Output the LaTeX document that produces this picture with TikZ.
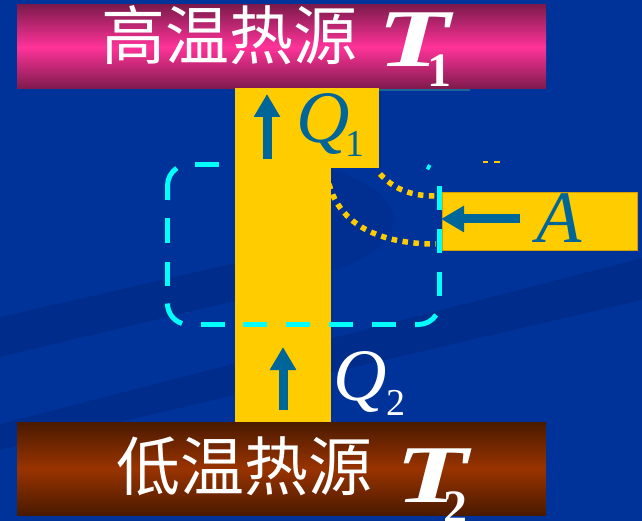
\documentclass[tikz,border=0pt]{standalone}
\usepackage{fontspec}
\usepackage{graphicx}
\newfontfamily\cjk{Noto Sans CJK SC}
\newfontfamily\tnr{Liberation Serif}
\usetikzlibrary{arrows.meta}
\definecolor{bg}{RGB}{0,51,153}
\definecolor{bgdark}{RGB}{0,45,140}
\definecolor{bgblob}{RGB}{0,47,145}
\definecolor{gold}{RGB}{255,204,0}
\definecolor{qblue}{RGB}{0,102,153}
\definecolor{cyanline}{RGB}{0,255,255}
\definecolor{magdark}{RGB}{125,26,76}
\definecolor{magmid}{RGB}{255,51,153}
\definecolor{browndark}{RGB}{74,26,0}
\definecolor{brownmid}{RGB}{153,51,0}
\definecolor{thinline}{RGB}{26,102,153}
\begin{document}
\begin{tikzpicture}[x=1pt,y=-1pt,
  cjklabel/.style={text=white, font=\cjk\fontsize{64}{64}\selectfont, inner sep=0pt, anchor=base west},
  tbig/.style={text=white, font=\tnr\bfseries\itshape\fontsize{82}{82}\selectfont, inner sep=0pt, anchor=base west},
  tsub/.style={text=white, font=\tnr\bfseries\fontsize{48}{48}\selectfont, inner sep=0pt, anchor=base west},
  qbig/.style={font=\tnr\itshape\fontsize{74}{74}\selectfont, inner sep=0pt, anchor=base west},
  qsub/.style={font=\tnr\fontsize{38}{38}\selectfont, inner sep=0pt, anchor=base west},
  bigarrow/.style={draw=qblue, line width=9pt, -{Triangle[length=23pt,width=25pt]}},
  dotline/.style={draw=gold, line width=5.5pt, dash pattern=on 5.5pt off 5.5pt},
  cyd/.style={draw=cyanline, line width=5pt},
  goldfill/.style={fill=gold}
]
\useasboundingbox (0,0) rectangle (642,521);
% background
\fill[bg] (0,0) rectangle (642,521);
\fill[bgdark] (0,317) -- (331,241) -- (331,278) -- (0,357) -- cycle;
\fill[bgdark] (0,424) -- (642,258) -- (642,300) -- (0,450) -- cycle;
\fill[bgblob] (331,170) .. controls (370,180) and (400,205) .. (393,225) .. controls (385,250) and (355,265) .. (331,270) -- cycle;
% heat reservoirs
\fill[top color=magdark, bottom color=magdark, middle color=magmid] (17,5) rectangle (546,89);
\fill[top color=browndark, bottom color=browndark, middle color=brownmid] (17,422) rectangle (546,515);
\draw[thinline, line width=2pt] (379,90) -- (470,90);
% dotted arcs
\draw[dotline] (380,174) .. controls (395,190) and (412,196) .. (436,196);
\draw[dotline] (329,184) .. controls (340,225) and (380,244) .. (436,244);
% yellow bands
\fill[goldfill] (235,88) rectangle (331,422);
\fill[goldfill] (235,88) rectangle (379,168);
\fill[goldfill, draw={rgb,255:red,212;green,160;blue,0}, line width=0.8pt] (442,192) rectangle (637,250);
\fill[gold] (483,161) rectangle (488,163);
\fill[gold] (494,161) rectangle (500,163);
% dashed boundary
\draw[cyd] (195,164.5) -- (219,164.5);
\draw[cyd] (176.8,168.1) arc[start angle=-124, end angle=-180, radius=21] -- (167.5,200);
\draw[cyd] (167.5,218) -- (167.5,243);
\draw[cyd] (167.5,262) -- (167.5,286);
\draw[cyd] (167.5,303.5) arc[start angle=180, end angle=108, radius=21];
\draw[cyd] (201,324.5) -- (225,324.5);
\draw[cyd] (243,324.5) -- (267,324.5);
\draw[cyd] (286,324.5) -- (310,324.5);
\draw[cyd] (329,324.5) -- (353,324.5);
\draw[cyd] (372,324.5) -- (396,324.5);
\draw[cyd] (415,324.5) -- (418.5,324.5) arc[start angle=90, end angle=33, radius=21];
\draw[cyd] (439.5,296) -- (439.5,272);
\draw[cyd] (439.5,253) -- (439.5,229);
\draw[cyd] (439.5,210) -- (439.5,186);
\draw[cyd] (418.5,185.5) ++(-66:21) arc[start angle=-66, end angle=-56, radius=21];
% arrows
\coordinate (q1s) at (267,159); \coordinate (q1e) at (267,94);
\coordinate (q2s) at (283,410); \coordinate (q2e) at (283,347);
\coordinate (as) at (520,219); \coordinate (ae) at (441,219);
\draw[bigarrow] (q1s) -- (q1e);
\draw[bigarrow] (q2s) -- (q2e);
\draw[bigarrow] (as) -- (ae);
% labels
\node[cjklabel] (hot) at (101,60) {高温热源};
\node[tbig] (t1) at (377,67) {\scalebox{1.45}[1]{T}};
\node[tsub] (t1s) at (427,87) {1};
\node[cjklabel] (cold) at (116,490) {低温热源};
\node[tbig] (t2) at (395,502) {\scalebox{1.45}[1]{T}};
\node[tsub] (t2s) at (443,523) {2};
\node[qbig, text=qblue] (q1) at (296,143) {Q};
\node[qsub, text=qblue] (q1sub) at (345,157) {1};
\node[qbig, text=white] (q2) at (333,400) {Q};
\node[qsub, text=white] (q2sub) at (386,415) {2};
\node[qbig, text=qblue] (a) at (536,243) {A};
\end{tikzpicture}
\end{document}
